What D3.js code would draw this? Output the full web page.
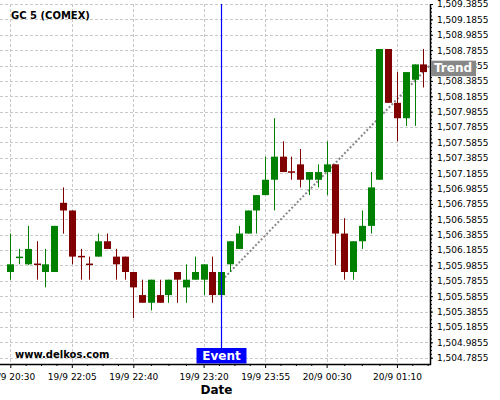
<!DOCTYPE html>
<html><head><meta charset="utf-8">
<script src="https://cdn.jsdelivr.net/npm/d3@7"></script>
<style>
body{margin:0;background:#fff}
svg{display:block;background:#fff}
text{font-family:"DejaVu Sans",Verdana,sans-serif}
</style>
</head><body>
<svg id="c" width="500" height="400"></svg>
<script>
// ---------- data ----------
const times = [
 "19/9 20:30","19/9 20:50","19/9 21:10","19/9 21:30","19/9 21:45","19/9 21:55","19/9 22:00",
 "19/9 22:05","19/9 22:10","19/9 22:15","19/9 22:20","19/9 22:25","19/9 22:30","19/9 22:35",
 "19/9 22:40","19/9 22:45","19/9 22:50","19/9 22:55","19/9 23:00","19/9 23:05","19/9 23:10",
 "19/9 23:15","19/9 23:20","19/9 23:25","19/9 23:30","19/9 23:35","19/9 23:40","19/9 23:45",
 "19/9 23:50","19/9 23:55","20/9 00:00","20/9 00:05","20/9 00:10","20/9 00:15","20/9 00:20",
 "20/9 00:25","20/9 00:30","20/9 00:35","20/9 00:40","20/9 00:45","20/9 00:50","20/9 00:55",
 "20/9 01:00","20/9 01:05","20/9 01:10","20/9 01:15","20/9 01:20","20/9 01:25"
];
const open  = [1505.9,1506.09,1506.0,1506.01,1505.9,1505.9,1506.8,1506.7,1506.11,1506.01,1506.1,1506.3,1506.1,1506.1,
 1505.9,1505.6,1505.5,1505.6,1505.6,1505.9,1505.7,1505.8,1505.8,1505.9,1505.6,1506.0,1506.2,1506.4,1506.7,1506.9,
 1507.1,1507.4,1507.21,1507.3,1507.1,1507.1,1507.2,1507.3,1506.4,1505.9,1506.3,1506.5,1507.1,1508.8,1508.1,1507.9,1508.4,1508.6];
const high  = [1506.4,1506.2,1506.5,1506.3,1506.2,1506.5,1507.0,1506.7,1506.2,1506.1,1506.4,1506.4,1506.2,1506.1,
 1505.9,1505.8,1505.8,1505.8,1505.8,1505.9,1506.0,1506.1,1506.0,1506.1,1505.9,1506.3,1506.5,1506.7,1506.9,1507.4,
 1507.9,1507.6,1507.4,1507.5,1507.2,1507.3,1507.6,1507.3,1506.6,1506.3,1506.7,1507.2,1508.8,1508.8,1508.5,1508.5,1508.6,1508.8];
const low   = [1505.8,1506.0,1505.99,1505.8,1505.7,1505.9,1506.4,1506.0,1505.8,1505.8,1506.1,1506.2,1505.8,1505.8,
 1505.3,1505.5,1505.4,1505.5,1505.5,1505.5,1505.5,1505.8,1505.6,1505.5,1505.6,1505.9,1506.2,1506.4,1506.4,1506.9,
 1506.7,1507.2,1507.1,1507.0,1506.9,1507.0,1506.9,1505.99,1505.8,1505.8,1506.2,1506.4,1507.1,1508.1,1507.6,1507.8,1507.8,1508.3];
const close = [1506.0,1506.1,1506.2,1506.0,1506.0,1506.5,1506.7,1506.1,1506.1,1506.0,1506.3,1506.2,1506.0,1505.9,
 1505.7,1505.5,1505.8,1505.5,1505.8,1505.8,1505.8,1505.9,1506.0,1505.6,1505.9,1506.3,1506.4,1506.7,1506.9,1507.1,
 1507.4,1507.2,1507.2,1507.1,1507.2,1507.2,1507.3,1506.4,1505.9,1506.3,1506.5,1507.0,1508.8,1508.1,1507.9,1508.5,1508.6,1508.5];
const xTickLabels = ["19/9 20:30","19/9 22:05","19/9 22:40","19/9 23:20","19/9 23:55","20/9 00:30","20/9 01:10"];
const yTicks = [1504.7855,1504.9855,1505.1855,1505.3855,1505.5855,1505.7855,1505.9855,1506.1855,1506.3855,1506.5855,
 1506.7855,1506.9855,1507.1855,1507.3855,1507.5855,1507.7855,1507.9855,1508.1855,1508.3855,1508.5855,1508.7855,
 1508.9855,1509.1855,1509.3855];
const eventTime = "19/9 23:30";
const trendIndex = [24.4, 47.76];
const trendPrice = [1505.83, 1508.59];
const titleText = "GC 5 (COMEX)";
const siteText = "www.delkos.com";

// ---------- layout ----------
const L = 0, R = 430, T = 4, B = 364;
const svg = d3.select("#c");
const x = d3.scaleLinear().domain([0, times.length - 1]).range([10.3, 423.3]);
const y = d3.scaleLinear().domain([yTicks[0], yTicks[yTicks.length-1]]).range([357.7, 4]);
const idx = d3.range(times.length);
const xTickIdx = xTickLabels.map(t => times.indexOf(t));
const GREEN = "#008000", RED = "#800000";

// grid
const g = svg.append("g");
g.selectAll("line.h").data(yTicks).join("line")
  .attr("x1", L).attr("x2", R).attr("y1", d => Math.round(y(d)) + 0.5).attr("y2", d => Math.round(y(d)) + 0.5)
  .attr("stroke", "#c8c8c8").attr("stroke-dasharray", "3,2").attr("stroke-width", 1);
g.selectAll("line.v").data(xTickIdx).join("line")
  .attr("x1", d => Math.round(x(d)) + 0.5).attr("x2", d => Math.round(x(d)) + 0.5).attr("y1", T).attr("y2", B)
  .attr("stroke", "#c8c8c8").attr("stroke-dasharray", "3,2").attr("stroke-width", 1);

// title & site
svg.append("text").attr("x", 11).attr("y", 19).attr("font-size", 10).attr("font-weight", "bold").text(titleText);
svg.append("text").attr("x", 15).attr("y", 357.5).attr("font-size", 10).attr("font-weight", "bold").text(siteText);

// trend line
svg.append("line")
  .attr("x1", x(trendIndex[0])).attr("y1", y(trendPrice[0]))
  .attr("x2", x(trendIndex[1])).attr("y2", y(trendPrice[1]))
  .attr("stroke", "#888").attr("stroke-width", 2).attr("stroke-dasharray", "2,2");

// candles
const c = svg.append("g");
const col = i => close[i] >= open[i] ? GREEN : RED;
c.selectAll("line.w").data(idx).join("line")
  .attr("x1", i => Math.round(x(i)) + 0.5).attr("x2", i => Math.round(x(i)) + 0.5)
  .attr("y1", i => y(high[i])).attr("y2", i => y(low[i]))
  .attr("stroke", col).attr("stroke-width", 1);
c.selectAll("rect").data(idx).join("rect")
  .attr("x", i => Math.round(x(i)) - 3).attr("width", 7)
  .attr("y", i => y(Math.max(open[i], close[i])))
  .attr("height", i => Math.max(1.5, Math.abs(y(open[i]) - y(close[i]))))
  .attr("fill", col);

// event
const ei = times.indexOf(eventTime);
const ex = Math.round(x(ei)) + 0.5;
svg.append("line").attr("x1", ex).attr("x2", ex).attr("y1", T).attr("y2", 348)
  .attr("stroke", "#0000ff").attr("stroke-width", 1.2);
svg.append("rect").attr("x", ex - 25).attr("y", 348).attr("width", 50).attr("height", 15.5).attr("fill", "#0000ff");
svg.append("text").attr("x", ex).attr("y", 360).attr("text-anchor", "middle").attr("font-size", 12)
  .attr("font-weight", "bold").attr("fill", "#fff").text("Event");

// right axis
const ya = svg.append("g").attr("transform", `translate(${R},0)`);
ya.call(d3.axisRight(y).tickValues(d3.range(yTicks[0], yTicks[yTicks.length-1] + 0.001, 0.05)).tickSize(2).tickFormat(""));
ya.select(".domain").remove();
const ya2 = svg.append("g").attr("transform", `translate(${R},0)`);
ya2.call(d3.axisRight(y).tickValues(yTicks).tickSize(3).tickPadding(4).tickFormat(d3.format(",.4f")));
ya2.select(".domain").remove();
ya2.selectAll("text").attr("font-size", 9).attr("font-family", "DejaVu Sans").attr("fill", "#000");

// bottom axis
const xa = svg.append("g").attr("transform", `translate(0,${B})`);
const minor = [];
for (let k = 0; k < xTickIdx.length - 1; k++) {
  const a = xTickIdx[k], b = xTickIdx[k+1];
  for (let q = 1; q < 4; q++) minor.push(a + (b - a) * q / 4);
}
const lastI = xTickIdx[xTickIdx.length-1];
minor.push(lastI + 7/4, lastI + 14/4);
xa.call(d3.axisBottom(x).tickValues(minor).tickSize(2).tickFormat(""));
xa.select(".domain").remove();
const xa2 = svg.append("g").attr("transform", `translate(0,${B})`);
xa2.call(d3.axisBottom(x).tickValues(xTickIdx).tickSize(4).tickPadding(5.5).tickFormat(i => times[i]));
xa2.select(".domain").remove();
xa2.selectAll("text").attr("font-size", 9).attr("font-family", "DejaVu Sans").attr("fill", "#000");
svg.selectAll(".tick line").attr("stroke", "#000");

// axis lines
svg.append("line").attr("x1", R + 0.5).attr("x2", R + 0.5).attr("y1", T).attr("y2", B + 1).attr("stroke", "#000").attr("stroke-width", 1.5);
svg.append("line").attr("x1", L).attr("x2", R + 1).attr("y1", B + 0.5).attr("y2", B + 0.5).attr("stroke", "#000").attr("stroke-width", 1.5);

// trend label
const ty = y(trendPrice[1]) + 3;
svg.append("rect").attr("x", R + 1).attr("y", ty - 7.5).attr("width", 45).attr("height", 15.5).attr("fill", "#888");
svg.append("text").attr("x", R + 4).attr("y", ty + 4).attr("font-size", 12).attr("font-weight", "bold")
  .attr("fill", "#fff").text("Trend");

// axis title
svg.append("text").attr("x", 216.5).attr("y", 393.5).attr("text-anchor", "middle").attr("font-size", 12)
  .attr("font-weight", "bold").text("Date");
</script>
</body></html>
